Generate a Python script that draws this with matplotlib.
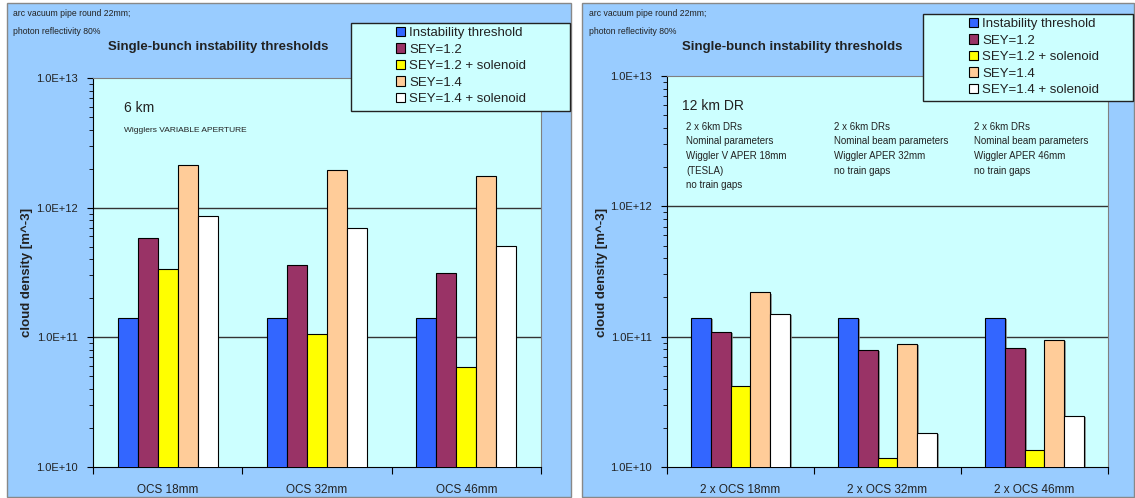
import matplotlib
matplotlib.use("Agg")
import matplotlib.pyplot as plt
import matplotlib.patheffects as pe
from matplotlib.patches import Rectangle, Patch
from matplotlib.ticker import LogLocator, FuncFormatter, NullFormatter, FixedLocator
import numpy as np

plt.rcParams['font.family'] = ['Liberation Sans', 'DejaVu Sans']

# data
series_names = ["Instability threshold", "SEY=1.2", "SEY=1.2 + solenoid", "SEY=1.4", "SEY=1.4 + solenoid"]
series_colors = ["#3366FF", "#993366", "#FFFF00", "#FFCC99", "#FFFFFF"]

left_categories = ["OCS 18mm", "OCS 32mm", "OCS 46mm"]
left_threshold = [1.41e11, 1.41e11, 1.41e11]
left_sey12 = [5.8e11, 3.6e11, 3.13e11]
left_sey12_sol = [3.37e11, 1.07e11, 5.9e10]
left_sey14 = [2.13e12, 1.95e12, 1.77e12]
left_sey14_sol = [8.6e11, 7.0e11, 5.1e11]

right_categories = ["2 x OCS 18mm", "2 x OCS 32mm", "2 x OCS 46mm"]
right_threshold = [1.40e11, 1.40e11, 1.40e11]
right_sey12 = [1.09e11, 7.9e10, 8.2e10]
right_sey12_sol = [4.16e10, 1.17e10, 1.34e10]
right_sey14 = [2.19e11, 8.8e10, 9.5e10]
right_sey14_sol = [1.49e11, 1.83e10, 2.46e10]

W, H = 1135, 498
TXT = "#222222"


def fx(px):
    return px / W


def fy(py):
    return 1 - py / H


fig = plt.figure(figsize=(W / 100, H / 100), dpi=100)
fig.patch.set_facecolor("white")


def draw_panel(x0, x1, ax_box, categories, values, shadow=False):
    # outer blue panel
    fig.add_artist(Rectangle((fx(x0), fy(497)), fx(x1) - fx(x0), fy(3) - fy(497),
                             transform=fig.transFigure, facecolor="#99CCFF",
                             edgecolor="#888888", lw=1, zorder=-5))
    l, t, r, b = ax_box
    ax = fig.add_axes([fx(l), fy(b), fx(r) - fx(l), fy(t) - fy(b)])
    ax.set_facecolor("#CCFFFF")
    ax.set_yscale("log", nonpositive="clip")
    ax.set_xlim(-0.5, len(categories) - 0.5)

    x = np.arange(len(categories))
    bw = 0.134
    for i, (vals, col) in enumerate(zip(values, series_colors)):
        bars = ax.bar(x + (i - 2) * bw, vals, width=bw, color=col,
                      edgecolor="black", lw=0.8, zorder=3)
        if shadow:
            for p in bars:
                p.set_path_effects([pe.SimplePatchShadow(offset=(1.5, -1), shadow_rgbFace="#888888", alpha=0.8),
                                    pe.Normal()])
    ax.set_ylim(1e10, 1e13)

    for v in [1e11, 1e12]:
        ax.axhline(v, color="#333333", lw=1, zorder=1)

    for s in ["top", "right"]:
        ax.spines[s].set_color("#808080")
    for s in ["left", "bottom"]:
        ax.spines[s].set_color("black")

    ax.yaxis.set_major_locator(LogLocator(base=10, numticks=10))
    ax.yaxis.set_minor_locator(LogLocator(base=10, subs=np.arange(2, 10), numticks=20))
    ax.yaxis.set_major_formatter(FuncFormatter(lambda v, p: f"{v:.1E}"))
    ax.yaxis.set_minor_formatter(NullFormatter())
    ax.tick_params(axis="y", which="major", length=4, pad=7, labelsize=8, labelcolor=TXT)
    ax.tick_params(axis="y", which="minor", length=3)

    ax.xaxis.set_major_locator(FixedLocator(np.arange(-0.5, len(categories), 1.0)))
    ax.xaxis.set_major_formatter(NullFormatter())
    ax.xaxis.set_minor_locator(FixedLocator(x))
    ax.set_xticklabels(categories, minor=True)
    ax.tick_params(axis="x", which="major", length=5, direction="out")
    ax.tick_params(axis="x", which="minor", length=0, pad=12, labelsize=8.5, labelcolor=TXT)
    return ax


left_vals = [left_threshold, left_sey12, left_sey12_sol, left_sey14, left_sey14_sol]
right_vals = [right_threshold, right_sey12, right_sey12_sol, right_sey14, right_sey14_sol]

axl = draw_panel(7, 571, (93, 78, 541, 467), left_categories, left_vals)
axr = draw_panel(582, 1134, (667, 76, 1108, 467), right_categories, right_vals, shadow=True)

# panel texts
for px, title_x in [(13, 218), (589, 792)]:
    fig.text(fx(px), fy(13), "arc vacuum pipe round 22mm;", fontsize=6.2, color=TXT, va="center")
    fig.text(fx(px), fy(31), "photon reflectivity 80%", fontsize=6.2, color=TXT, va="center")
    fig.text(fx(title_x), fy(47), "Single-bunch instability thresholds", fontsize=9.5,
             fontweight="bold", color=TXT, ha="center", va="center")

fig.text(fx(27), fy(272), "cloud density [m^-3]", rotation=90, fontsize=9.5,
         fontweight="bold", ha="center", va="center", color=TXT)
fig.text(fx(602), fy(272), "cloud density [m^-3]", rotation=90, fontsize=9.5,
         fontweight="bold", ha="center", va="center", color=TXT)

fig.text(fx(124), fy(108), "6 km", fontsize=10, color=TXT, va="center")
fig.text(fx(124), fy(131), "Wigglers VARIABLE APERTURE", fontsize=6, color=TXT, va="center")

fig.text(fx(682), fy(106), "12 km DR", fontsize=10, color=TXT, va="center")
notes = [
    (686, ["2 x 6km DRs", "Nominal parameters", "Wiggler V APER 18mm", "(TESLA)", "no train gaps"]),
    (834, ["2 x 6km DRs", "Nominal beam parameters", "Wiggler APER 32mm", "no train gaps"]),
    (974, ["2 x 6km DRs", "Nominal beam parameters", "Wiggler APER 46mm", "no train gaps"]),
]
for nx, lines in notes:
    for k, line in enumerate(lines):
        fig.text(fx(nx), fy(127 + k * 14.5), line, fontsize=7, color=TXT, va="center")

# legends
handles = [Patch(facecolor=c, edgecolor="black", lw=0.8) for c in series_colors]
for bx0, bx1, by0, by1, hx, hy in [(351, 570, 23, 111, 396, 27), (923, 1133, 14, 101, 969, 18)]:
    fig.add_artist(Rectangle((fx(bx0), fy(by1)), fx(bx1) - fx(bx0), fy(by0) - fy(by1),
                             transform=fig.transFigure, facecolor="#CCFFFF",
                             edgecolor="#222222", lw=1, zorder=5))
    leg = fig.legend(handles, series_names, loc="upper left", bbox_to_anchor=(fx(hx), fy(hy)),
                     frameon=False, fontsize=9.5, handlelength=0.7, handleheight=0.7,
                     handletextpad=0.3, labelspacing=0.32, borderpad=0, borderaxespad=0)
    leg.set_zorder(6)
    for t in leg.get_texts():
        t.set_color(TXT)

fig.savefig("out.png", dpi=100)
